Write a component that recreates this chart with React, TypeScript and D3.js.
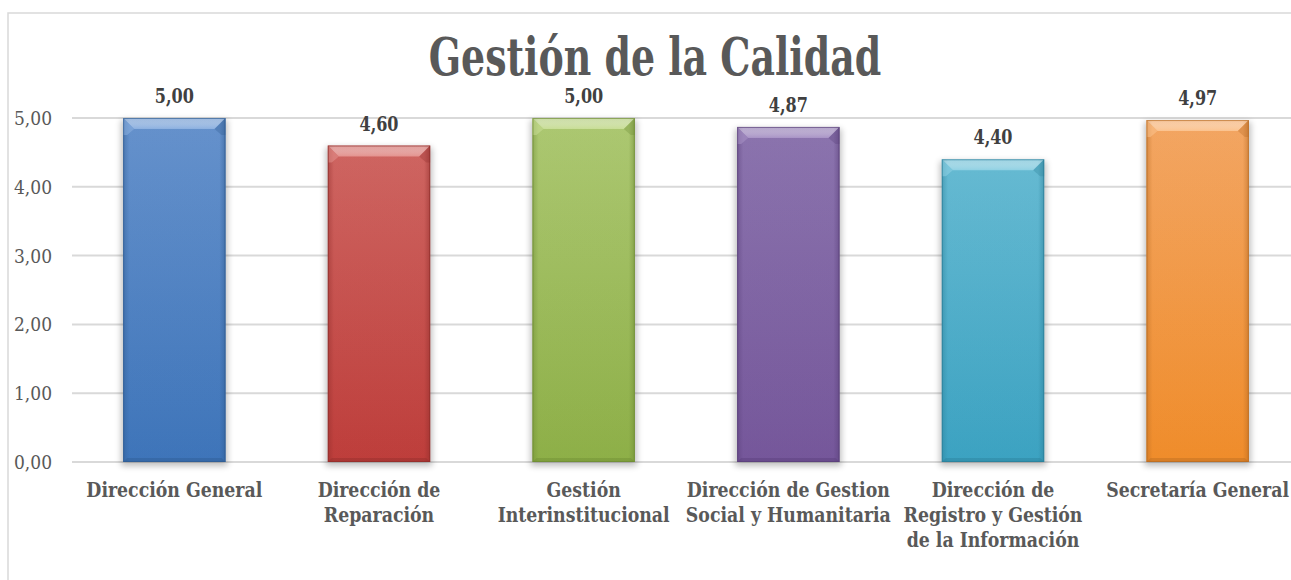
import React from "react";
import * as d3 from "d3";

const categories = [
  "Dirección General",
  "Dirección de\nReparación",
  "Gestión\nInterinstitucional",
  "Dirección de Gestion\nSocial y Humanitaria",
  "Dirección de\nRegistro y Gestión\nde la Información",
  "Secretaría General",
];
const values = [5.0, 4.6, 5.0, 4.87, 4.4, 4.97];
const yTicks = [0, 1, 2, 3, 4, 5];
const title = "Gestión de la Calidad";

const palette = [
  { top: "#6d99d4", bottom: "#4078bf", bevel: "#8fb3e2", edge: "#2e5a8f" },
  { top: "#d76d69", bottom: "#c4403d", bevel: "#e69692", edge: "#8e2c2a" },
  { top: "#b5d07a", bottom: "#92b44a", bevel: "#cbe099", edge: "#6b8933" },
  { top: "#927bb5", bottom: "#795a9f", bevel: "#ab96c8", edge: "#573d77" },
  { top: "#6ec2da", bottom: "#3ea7c7", bevel: "#93d3e5", edge: "#2a7d96" },
  { top: "#fbae6c", bottom: "#f7912c", bevel: "#fcc592", edge: "#b46820" },
];

const W = 1291;
const H = 580;
const FONT = "'DejaVu Serif', serif";

function Label(props: {
  x: number;
  y: number;
  sx: number;
  size: number;
  bold?: boolean;
  fill: string;
  anchor?: string;
  lines: string[];
  lh?: number;
}) {
  const { x, y, sx, size, bold, fill, anchor = "middle", lines, lh = 25 } = props;
  return (
    <text
      transform={`translate(${x},${y}) scale(${sx},1)`}
      textAnchor={anchor}
      fontFamily={FONT}
      fontWeight={bold ? "bold" : "normal"}
      fontSize={size}
      fill={fill}
      style={{ fontStretch: "condensed" }}
    >
      {lines.map((l, j) => (
        <tspan key={j} x={0} y={j * lh}>
          {l}
        </tspan>
      ))}
    </text>
  );
}

export default function App() {
  const x = d3
    .scaleBand<string>()
    .domain(categories)
    .range([72, 1300])
    .paddingInner(0.5)
    .paddingOuter(0.25);
  const y = d3.scaleLinear().domain([0, 5]).range([462, 118]);
  const fmt = (v: number) => d3.format(".2f")(v).replace(".", ",");
  const bw = x.bandwidth();
  const bt = 11; // top bevel
  const bb = 4; // bottom bevel
  const bs = 4; // side bevel

  return (
    <div style={{ position: "absolute", left: 0, top: 0, width: W, height: H, background: "#fff" }}>
      <svg width={W} height={H} style={{ display: "block" }}>
        <defs>
          <filter id="shadow" x="-30%" y="-10%" width="160%" height="130%">
            <feGaussianBlur stdDeviation="3" />
          </filter>
          {palette.map((p, i) => (
            <React.Fragment key={i}>
              <linearGradient id={`body${i}`} x1="0" y1="0" x2="0" y2="1">
                <stop offset="0" stopColor={p.top} />
                <stop offset="1" stopColor={p.bottom} />
              </linearGradient>
              <linearGradient id={`side${i}`} x1="0" y1="0" x2="1" y2="0">
                <stop offset="0" stopColor={p.edge} stopOpacity={0.5} />
                <stop offset="0.06" stopColor={p.edge} stopOpacity={0.12} />
                <stop offset="0.94" stopColor={p.edge} stopOpacity={0.12} />
                <stop offset="1" stopColor={p.edge} stopOpacity={0.55} />
              </linearGradient>
              <linearGradient id={`bev${i}`} x1="0" y1="0" x2="0" y2="1">
                <stop offset="0" stopColor="#fff" stopOpacity={0.35} />
                <stop offset="1" stopColor={p.bevel} stopOpacity={0.9} />
              </linearGradient>
            </React.Fragment>
          ))}
        </defs>

        {/* chart frame */}
        <rect x={8} y={13} width={1400} height={700} fill="none" stroke="#d9d9d9" strokeWidth={1.5} />

        {/* title */}
        <Label x={655} y={75} sx={0.81} size={52} bold fill="#595959" lines={[title]} />

        {/* gridlines */}
        {yTicks.map((t) => (
          <line key={t} x1={72} x2={W} y1={y(t)} y2={y(t)} stroke="#d9d9d9" strokeWidth={2} />
        ))}

        {/* y tick labels */}
        {yTicks.map((t) => (
          <Label key={t} x={52} y={y(t) + 7} sx={1} size={19} fill="#595959" anchor="end" lines={[fmt(t)]} />
        ))}

        {/* bars */}
        {categories.map((c, i) => {
          const x0 = x(c)!;
          const x1 = x0 + bw;
          const y0 = y(values[i]);
          const y1 = y(0);
          const p = palette[i];
          return (
            <g key={c}>
              <rect x={x0 - 2} y={y0 + 2} width={bw + 4} height={y1 - y0 + 2} fill="#000" opacity={0.25} filter="url(#shadow)" />
              <rect x={x0} y={y0} width={bw} height={y1 - y0} fill={`url(#body${i})`} />
              <rect x={x0} y={y0} width={bw} height={y1 - y0} fill={`url(#side${i})`} />
              <polygon
                points={`${x0},${y0} ${x1},${y0} ${x1 - bt},${y0 + bt} ${x0 + bt},${y0 + bt}`}
                fill={`url(#bev${i})`}
              />
              <polygon
                points={`${x0},${y0} ${x0 + bt},${y0 + bt} ${x0 + bs},${y0 + bt + 6} ${x0},${y0 + bt + 6}`}
                fill={p.bevel}
                opacity={0.5}
              />
              <polygon
                points={`${x1},${y0} ${x1 - bt},${y0 + bt} ${x1 - bs},${y0 + bt + 6} ${x1},${y0 + bt + 6}`}
                fill={p.edge}
                opacity={0.3}
              />
              <polygon
                points={`${x0},${y1} ${x1},${y1} ${x1 - bs},${y1 - bb} ${x0 + bs},${y1 - bb}`}
                fill={p.edge}
                opacity={0.4}
              />
              <rect x={x0 + 0.5} y={y0 + 0.5} width={bw - 1} height={y1 - y0 - 1} fill="none" stroke={p.edge} strokeOpacity={0.65} strokeWidth={1} />
            </g>
          );
        })}

        {/* value labels */}
        {categories.map((c, i) => (
          <Label
            key={c}
            x={x(c)! + bw / 2}
            y={y(values[i]) - 15}
            sx={0.87}
            size={20.5}
            bold
            fill="#404040"
            lines={[fmt(values[i])]}
          />
        ))}

        {/* category labels */}
        {categories.map((c) => (
          <Label
            key={c}
            x={x(c)! + bw / 2}
            y={497}
            sx={0.94}
            size={20.5}
            bold
            fill="#595959"
            lines={c.split("\n")}
          />
        ))}
      </svg>
    </div>
  );
}
